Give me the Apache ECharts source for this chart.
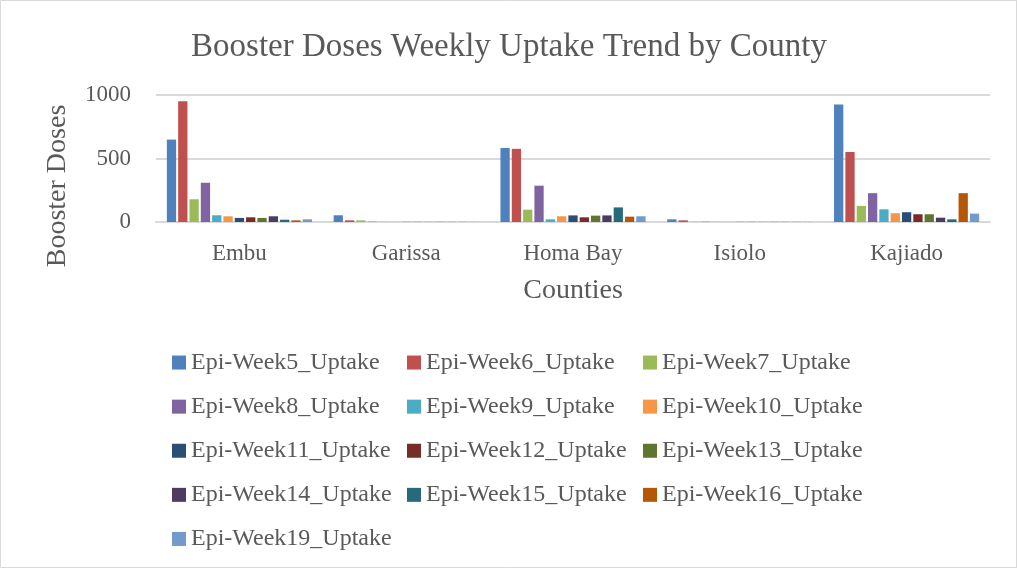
<!DOCTYPE html>
<html><head><meta charset="utf-8">
<script src="https://cdn.jsdelivr.net/npm/echarts@6/dist/echarts.min.js"></script>
<style>html,body{margin:0;padding:0;background:#fff}#c{width:1018px;height:569px}</style>
</head><body><div id="c"></div>
<script>
const counties = ['Embu','Garissa','Homa Bay','Isiolo','Kajiado'];
const seriesNames = ['Epi-Week5_Uptake','Epi-Week6_Uptake','Epi-Week7_Uptake','Epi-Week8_Uptake','Epi-Week9_Uptake','Epi-Week10_Uptake','Epi-Week11_Uptake','Epi-Week12_Uptake','Epi-Week13_Uptake','Epi-Week14_Uptake','Epi-Week15_Uptake','Epi-Week16_Uptake','Epi-Week19_Uptake'];
const week5  = [649, 53, 583, 21, 926];
const week6  = [950, 13, 576, 13, 551];
const week7  = [179, 13,  97,  2, 127];
const week8  = [309,  2, 286,  2, 227];
const week9  = [ 53,  1,  21,  1, 100];
const week10 = [ 45,  1,  45,  1,  69];
const week11 = [ 32,  1,  52,  1,  77];
const week12 = [ 37,  1,  37,  1,  61];
const week13 = [ 32,  1,  50,  1,  61];
const week14 = [ 45,  1,  52,  1,  34];
const week15 = [ 18,  1, 115,  1,  21];
const week16 = [ 13,  1,  42,  1, 227];
const week19 = [ 21,  1,  45,  1,  66];
const seriesData = [week5,week6,week7,week8,week9,week10,week11,week12,week13,week14,week15,week16,week19];
const yTicks = [0, 500, 1000];
const colors = ['#4F81BD','#C0504D','#9BBB59','#8064A2','#4BACC6','#F79646','#2C4D75','#772C2A','#5F7530','#4D3B62','#276A7C','#B65708','#729ACA'];

const FONT = 'Liberation Serif';
const chart = echarts.init(document.getElementById('c'));
const legendCols = [[0,3,6,9,12],[1,4,7,10],[2,5,8,11]];
const colX = [172, 407, 643];
const legends = legendCols.map((idxs, k) => ({
  orient: 'vertical', left: colX[k], top: 340.5, padding: 0,
  itemWidth: 14, itemHeight: 14, itemGap: 0, icon: 'rect',
  data: idxs.map(i => seriesNames[i]),
  textStyle: {fontFamily: FONT, fontSize: 24, lineHeight: 44.1, color: '#595959', padding: [0,0,0,0]},
  selectedMode: false
}));
chart.setOption({
  animation: false,
  color: colors,
  title: {text: 'Booster Doses Weekly Uptake Trend by County', left: 'center', top: 26,
    textStyle: {fontFamily: FONT, fontSize: 33, fontWeight: 'normal', color: '#595959'}},
  graphic: [
    {type: 'rect', shape: {x: 0.5, y: 0.5, width: 1016, height: 567}, style: {fill: 'none', stroke: '#D9D9D9', lineWidth: 1}},
    {type: 'text', x: 58, y: 186, rotation: Math.PI / 2,
      style: {text: 'Booster Doses', fontFamily: FONT, fontSize: 28, fill: '#595959', align: 'center', verticalAlign: 'middle'}}
  ],
  legend: legends,
  grid: {left: 156, right: 28, top: 95, bottom: 347},
  xAxis: {type: 'category', data: counties,
    axisLine: {lineStyle: {color: '#D9D9D9', width: 2}}, axisTick: {show: false},
    axisLabel: {fontFamily: FONT, fontSize: 23, color: '#595959', margin: 20},
    name: 'Counties', nameLocation: 'middle', nameGap: 55,
    nameTextStyle: {fontFamily: FONT, fontSize: 28, color: '#595959'}},
  yAxis: {type: 'value', min: 0, max: 1000, interval: 500,
    axisLine: {show: false}, axisTick: {show: false},
    splitLine: {lineStyle: {color: '#D9D9D9', width: 2}},
    axisLabel: {fontFamily: FONT, fontSize: 23, color: '#595959', margin: 25,
      formatter: v => yTicks.includes(v) ? String(v) : ''}},
  series: seriesData.map((d, i) => ({
    name: seriesNames[i], type: 'bar', data: d,
    barGap: '22%', barCategoryGap: '13%'
  }))
});
</script></body></html>
